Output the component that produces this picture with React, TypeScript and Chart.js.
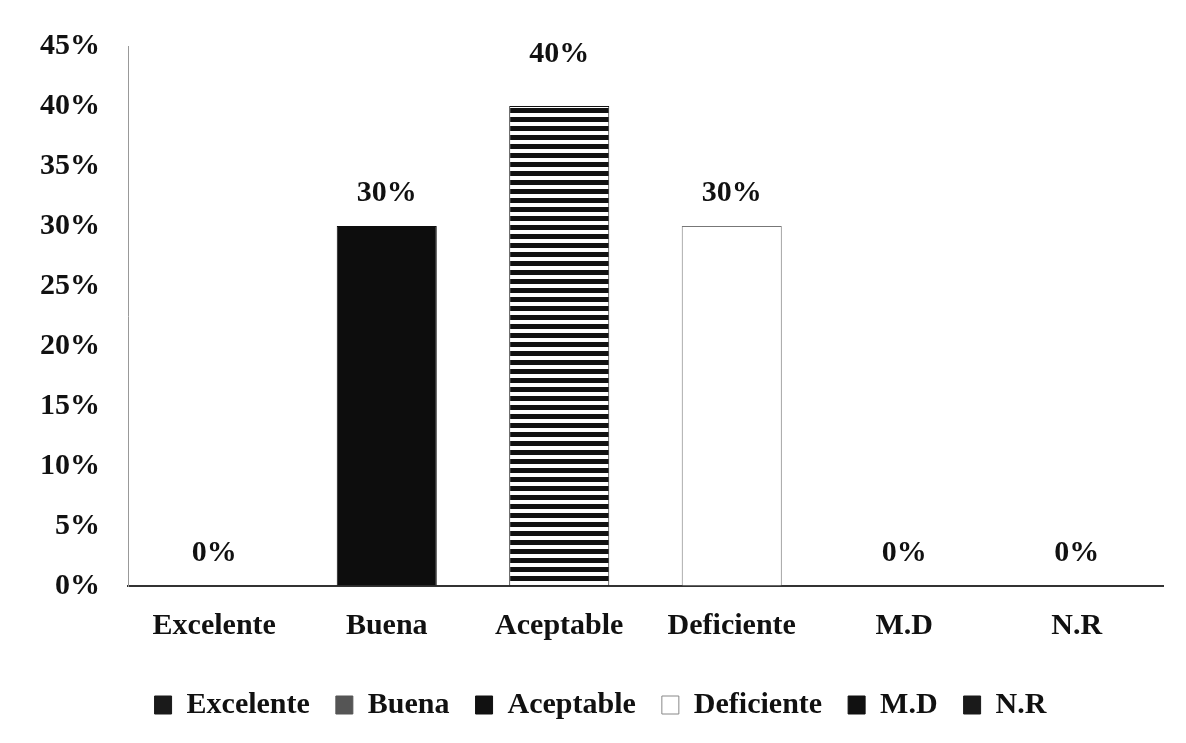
import React, { useEffect, useRef } from "react";
import { Chart, registerables } from "chart.js";

Chart.register(...registerables);

const categories = ["Excelente", "Buena", "Aceptable", "Deficiente", "M.D", "N.R"];
const values = [0, 30, 40, 30, 0, 0];
const yTicks = [0, 5, 10, 15, 20, 25, 30, 35, 40, 45];

const FONT = "'Liberation Serif', 'Times New Roman', serif";

function stripePattern(): CanvasPattern | string {
  const c = document.createElement("canvas");
  c.width = 8;
  c.height = 9;
  const g = c.getContext("2d");
  if (!g) return "#222";
  g.fillStyle = "#ffffff";
  g.fillRect(0, 0, 8, 9);
  g.fillStyle = "#111111";
  g.fillRect(0, 0, 8, 5);
  const p = g.createPattern(c, "repeat");
  return p || "#222";
}

const dataLabels = {
  id: "dataLabels",
  afterDatasetsDraw(chart: any) {
    const { ctx } = chart;
    const meta = chart.getDatasetMeta(0);
    ctx.save();
    ctx.font = `bold 30px ${FONT}`;
    ctx.fillStyle = "#111";
    ctx.textAlign = "center";
    ctx.textBaseline = "middle";
    meta.data.forEach((bar: any, i: number) => {
      const lift = values[i] >= 40 ? 52 : 33;
      ctx.fillText(`${values[i]}%`, bar.x, bar.y - lift);
    });
    ctx.restore();
  },
};

export default function App() {
  const ref = useRef<HTMLCanvasElement>(null);

  useEffect(() => {
    if (!ref.current) return;
    const stripes = stripePattern();
    const barColors: any[] = ["#151515", "#0d0d0d", stripes, "#ffffff", "#151515", "#151515"];
    const borderColors = ["#151515", "#0d0d0d", "#111", "#777", "#151515", "#151515"];
    const legendFill = ["#1a1a1a", "#555555", "#111111", "#ffffff", "#111111", "#1a1a1a"];
    const legendStroke = ["#1a1a1a", "#555555", "#111111", "#888888", "#111111", "#1a1a1a"];

    const chart = new Chart(ref.current, {
      type: "bar",
      data: {
        labels: categories,
        datasets: [
          {
            data: values,
            backgroundColor: barColors,
            borderColor: borderColors,
            borderWidth: 1,
            barPercentage: 0.58,
            categoryPercentage: 1,
          },
        ],
      },
      options: {
        animation: false,
        responsive: true,
        maintainAspectRatio: false,
        layout: { padding: { top: 35, left: 38, right: 23, bottom: 13 } },
        plugins: {
          tooltip: { enabled: false },
          legend: {
            display: true,
            position: "bottom",
            labels: {
              boxWidth: 17,
              boxHeight: 18,
              padding: 26,
              color: "#111",
              font: { family: FONT, size: 30, weight: "bold" },
              generateLabels: () =>
                categories.map((c, i) => ({
                  text: c,
                  fillStyle: legendFill[i],
                  strokeStyle: legendStroke[i],
                  lineWidth: 1,
                  hidden: false,
                  index: i,
                  fontColor: "#111",
                })),
            },
          },
        },
        scales: {
          x: {
            grid: { display: true, color: "transparent", drawTicks: false },
            border: { display: true, color: "#333", width: 2 },
            ticks: {
              color: "#111",
              padding: 22,
              font: { family: FONT, size: 30, weight: "bold" },
            },
            afterFit: (s: any) => {
              s.height = 78;
            },
          },
          y: {
            min: 0,
            max: 45,
            grid: { display: true, color: "transparent", drawTicks: false },
            border: { display: true, color: "#999", width: 1 },
            afterBuildTicks: (s: any) => {
              s.ticks = yTicks.map((v) => ({ value: v }));
            },
            ticks: {
              color: "#111",
              padding: 28,
              font: { family: FONT, size: 30, weight: "bold" },
              callback: (v: any) => `${v}%`,
            },
            afterFit: (s: any) => {
              s.width = 90;
            },
          },
        },
      },
      plugins: [dataLabels],
    });
    return () => chart.destroy();
  }, []);

  return (
    <div style={{ position: "fixed", left: 0, top: 0, width: 1186, height: 743, background: "#fff" }}>
      <canvas ref={ref} />
    </div>
  );
}
